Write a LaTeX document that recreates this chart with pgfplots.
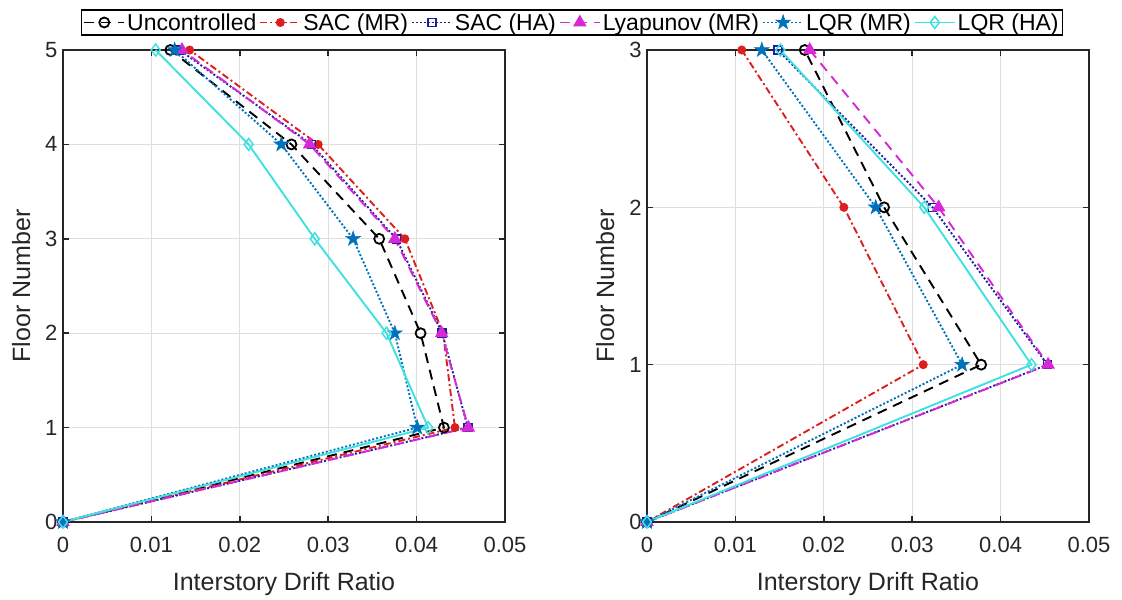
\documentclass[border=0pt]{standalone}
\usepackage{pgfplots}
\pgfplotsset{compat=1.18}
\usepackage{fontspec}
\setmainfont{Liberation Sans}
\usetikzlibrary{plotmarks}
\definecolor{tickc}{RGB}{38,38,38}
\definecolor{gridc}{RGB}{222,222,222}
\definecolor{csacmr}{RGB}{220,30,30}
\definecolor{csacha}{RGB}{30,30,160}
\definecolor{clyap}{RGB}{214,40,214}
\definecolor{clqrmr}{RGB}{0,114,189}
\definecolor{clqrha}{RGB}{64,224,224}
\pgfdeclareplotmark{pent}{%
  \pgfpathmoveto{\pgfpointpolar{90}{1.3\pgfplotmarksize}}%
  \pgfpathlineto{\pgfpointpolar{126}{0.5\pgfplotmarksize}}%
  \pgfpathlineto{\pgfpointpolar{162}{1.3\pgfplotmarksize}}%
  \pgfpathlineto{\pgfpointpolar{198}{0.5\pgfplotmarksize}}%
  \pgfpathlineto{\pgfpointpolar{234}{1.3\pgfplotmarksize}}%
  \pgfpathlineto{\pgfpointpolar{270}{0.5\pgfplotmarksize}}%
  \pgfpathlineto{\pgfpointpolar{306}{1.3\pgfplotmarksize}}%
  \pgfpathlineto{\pgfpointpolar{342}{0.5\pgfplotmarksize}}%
  \pgfpathlineto{\pgfpointpolar{18}{1.3\pgfplotmarksize}}%
  \pgfpathlineto{\pgfpointpolar{54}{0.5\pgfplotmarksize}}%
  \pgfpathclose
  \pgfusepathqfillstroke}
\pgfplotsset{
  myax/.style={
    scale only axis, width=442bp, height=472bp,
    xmin=0, xmax=0.05,
    xtick={0,0.01,0.02,0.03,0.04,0.05},
    xticklabels={0,0.01,0.02,0.03,0.04,0.05},
    scaled x ticks=false,
    grid=major, major grid style={gridc, line width=1bp},
    tick align=inside, major tick length=6bp,
    axis line style={tickc, line width=1.5bp},
    every tick/.style={tickc, line width=1.5bp},
    tick label style={font=\fontsize{22bp}{24bp}\selectfont, text=tickc},
    xticklabel style={yshift=-12bp},
    yticklabel style={xshift=-2bp},
    label style={font=\fontsize{25bp}{28bp}\selectfont, text=tickc},
    xlabel={Interstory Drift Ratio}, ylabel={Floor Number},
    xlabel style={yshift=-12bp},
    ylabel style={yshift=8bp},
    /pgf/number format/assume math mode=true,
    clip=false,
    every axis plot/.append style={line width=1.9bp},
  },
  sUnc/.style={black, dash pattern=on 10bp off 7bp, mark=o, mark size=5bp, mark options={solid, line width=1.8bp}},
  sSacMR/.style={csacmr, dash pattern=on 7bp off 3bp on 2bp off 3bp, mark=*, mark size=3.5bp, mark options={solid}},
  sSacHA/.style={csacha, dash pattern=on 2bp off 2bp, mark=square, mark size=4bp, mark options={solid, line width=1.5bp}},
  sLyap/.style={clyap, dash pattern=on 10bp off 7bp, mark=triangle*, mark size=6bp, mark options={solid}},
  sLqrMR/.style={clqrmr, dash pattern=on 2bp off 2bp, mark=pent, mark size=6bp, mark options={solid, line width=0.5bp}},
  sLqrHA/.style={clqrha, solid, mark=diamond, mark size=6bp, mark options={solid, line width=1.5bp}},
}
\begin{document}
\begin{tikzpicture}
\path[use as bounding box] (0,0) rectangle (1122bp,600bp);
\begin{axis}[myax, at={(63bp,78bp)}, anchor=south west,
  ymin=0, ymax=5, ytick={0,1,2,3,4,5},
  legend columns=6,
  legend style={at={(1.1516,1.0583)}, anchor=center, draw=black, line width=1.2bp,
    font=\fontsize{23bp}{26bp}\selectfont, inner xsep=2bp, inner ysep=1.5bp,
    nodes={inner xsep=2bp},
    /tikz/every even column/.append style={column sep=1bp}},
  legend image code/.code={\draw[mark repeat=2, mark phase=2] plot coordinates {(0bp,0bp) (20bp,0bp) (40bp,0bp)};},
]
\addplot[sUnc] coordinates {(0,0) (0.04309,1) (0.04045,2) (0.03577,3) (0.02584,4) (0.01214,5)};
\addlegendentry{Uncontrolled}
\addplot[sSacMR] coordinates {(0,0) (0.04434,1) (0.0430,2) (0.03867,3) (0.02886,4) (0.01433,5)};
\addlegendentry{SAC (MR)}
\addplot[sSacHA] coordinates {(0,0) (0.0458,1) (0.0429,2) (0.0377,3) (0.0281,4) (0.0132,5)};
\addlegendentry{SAC (HA)}
\addplot[sLyap] coordinates {(0,0) (0.04585,1) (0.04283,2) (0.03754,3) (0.0279,4) (0.01346,5)};
\addlegendentry{Lyapunov (MR)}
\addplot[sLqrMR] coordinates {(0,0) (0.04007,1) (0.03754,2) (0.03282,3) (0.0247,4) (0.01263,5)};
\addlegendentry{LQR (MR)}
\addplot[sLqrHA] coordinates {(0,0) (0.04131,1) (0.0366,2) (0.02848,3) (0.0210,4) (0.01048,5)};
\addlegendentry{LQR (HA)}
\end{axis}
\begin{axis}[myax, at={(647bp,78bp)}, anchor=south west,
  ymin=0, ymax=3, ytick={0,1,2,3}]
\addplot[sUnc] coordinates {(0,0) (0.0378,1) (0.02682,2) (0.01784,3)};
\addplot[sSacMR] coordinates {(0,0) (0.03125,1) (0.02227,2) (0.01072,3)};
\addplot[sSacHA] coordinates {(0,0) (0.0453,1) (0.03231,2) (0.0148,3)};
\addplot[sLyap] coordinates {(0,0) (0.04538,1) (0.03299,2) (0.01841,3)};
\addplot[sLqrMR] coordinates {(0,0) (0.03565,1) (0.02587,2) (0.01299,3)};
\addplot[sLqrHA] coordinates {(0,0) (0.04349,1) (0.03136,2) (0.01508,3)};
\end{axis}
\end{tikzpicture}
\end{document}
